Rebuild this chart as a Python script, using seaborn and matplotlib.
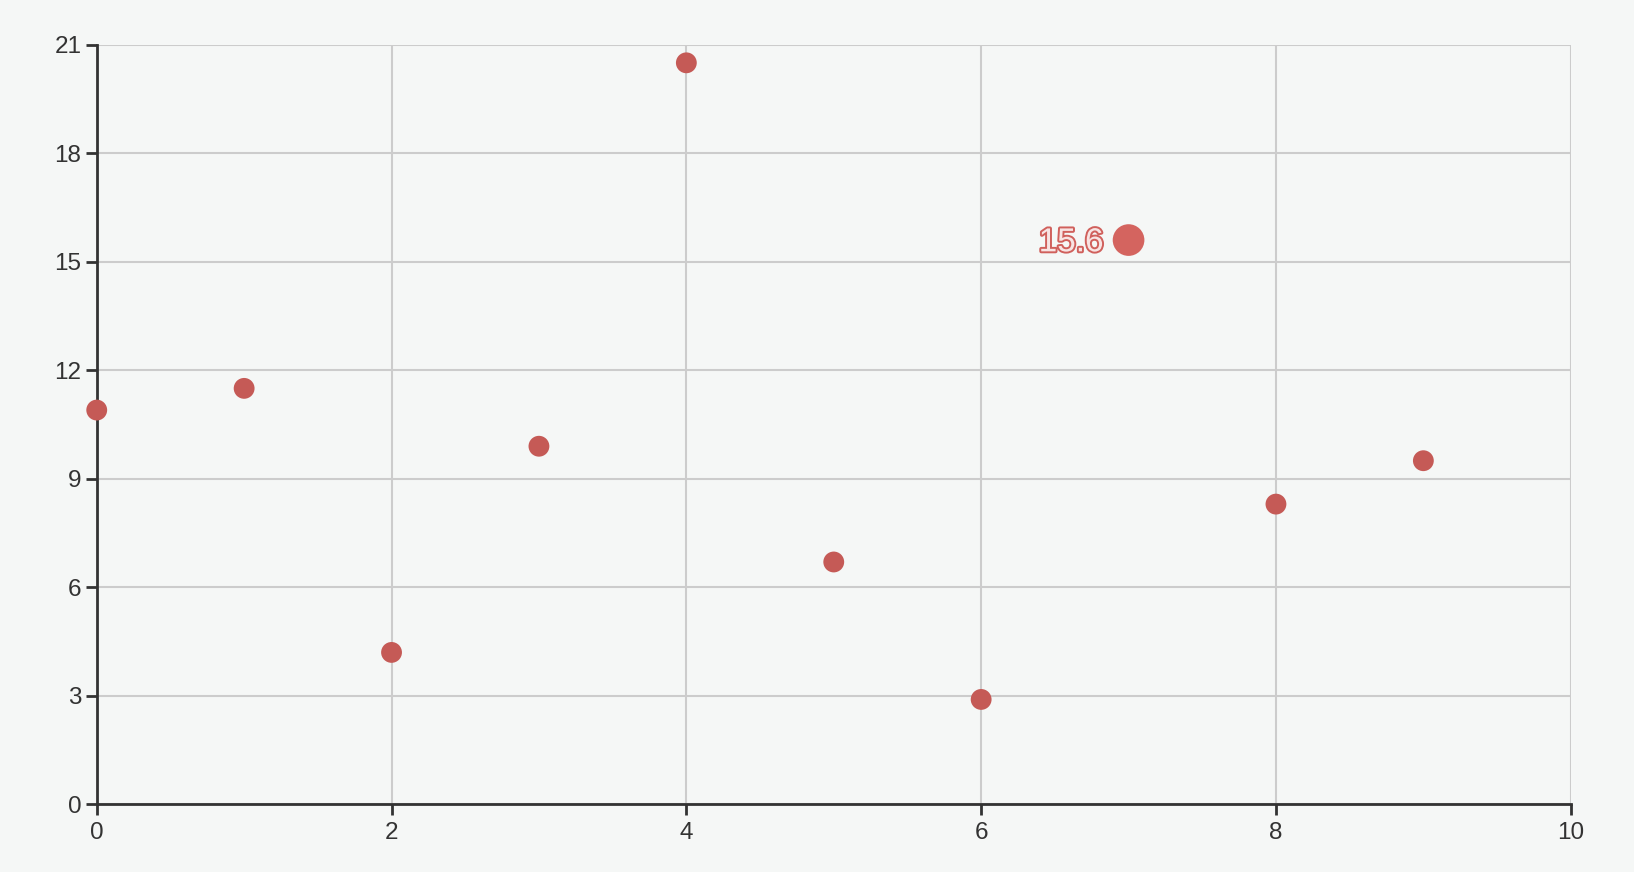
import pandas as pd
import seaborn as sns
import matplotlib.pyplot as plt
import matplotlib.patheffects as pe

# Scatter values
x_values = [0, 1, 2, 3, 4, 5, 6, 7, 8, 9]
y_values = [10.9, 11.5, 4.2, 9.9, 20.5, 6.7, 2.9, 15.6, 8.3, 9.5]
highlight_index = 7
x_ticks = [0, 2, 4, 6, 8, 10]
y_ticks = [0, 3, 6, 9, 12, 15, 18, 21]

plot_data = pd.DataFrame({'x': x_values, 'y': y_values})
normal = plot_data.drop(index=highlight_index)
focus = plot_data.loc[[highlight_index]]

bg = '#f5f7f6'
sns.set_theme(style='white')
plt.rcParams['font.family'] = ['Liberation Sans', 'DejaVu Sans']

fig = plt.figure(figsize=(16.34, 8.72), dpi=100, facecolor=bg)
ax = fig.add_axes([0.0592, 0.0776, 0.9021, 0.8711], facecolor=bg)

sns.scatterplot(data=normal, x='x', y='y', s=225, color='#c55a56',
                edgecolor='none', ax=ax, zorder=3, clip_on=False)
sns.scatterplot(data=focus, x='x', y='y', s=520, color='#d4645f',
                edgecolor='none', ax=ax, zorder=3, clip_on=False)

# Emphasis label next to the highlighted point
hx, hy = x_values[highlight_index], y_values[highlight_index]
ax.annotate(f'{hy}', xy=(hx, hy), xytext=(-18, -2), textcoords='offset points',
            ha='right', va='center', fontsize=24, color='#f8e4e3', zorder=4,
            path_effects=[pe.withStroke(linewidth=2.8, foreground='#d0605c')])

ax.set_xlim(0, 10)
ax.set_ylim(0, 21)
ax.set_xticks(x_ticks)
ax.set_yticks(y_ticks)
ax.grid(True, color='#cccccc', linewidth=1.5)
ax.set_axisbelow(True)

for side in ['top', 'right']:
    ax.spines[side].set_visible(False)
for side in ['left', 'bottom']:
    ax.spines[side].set_color('#333333')
    ax.spines[side].set_linewidth(2)

ax.tick_params(axis='both', which='major', direction='out', length=8, width=2,
               color='#333333', labelsize=17.5, labelcolor='#333333', pad=5,
               bottom=True, left=True)
ax.tick_params(axis='y', pad=3)
ax.set_xlabel('')
ax.set_ylabel('')

plt.savefig('out.png', dpi=100, facecolor=bg)
